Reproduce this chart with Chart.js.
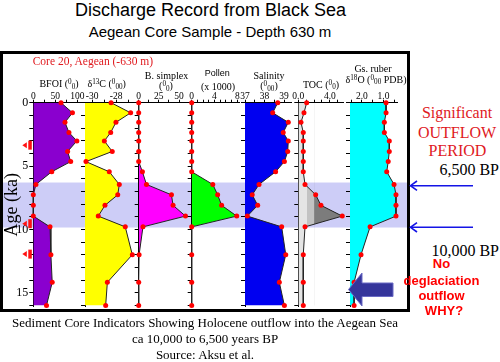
<!DOCTYPE html>
<html>
<head>
<meta charset="utf-8">
<script src="https://cdn.jsdelivr.net/npm/chart.js"></script>
<style>
  body { margin: 0; width: 500px; height: 362px; background: #fff; position: relative; overflow: hidden; }
  .t { position: absolute; white-space: nowrap; line-height: 1; }
  .h { transform: translateX(-50%); }
  .c { transform: translate(-50%, -50%); }
  .serif { font-family: 'Liberation Serif', 'Times New Roman', serif; }
  .sans { font-family: 'Liberation Sans', Arial, sans-serif; }
  .up { font-size: 0.72em; position: relative; top: -0.38em; }
  .dn { font-size: 0.72em; position: relative; top: 0.22em; }
  #box { position: absolute; left: 0; top: 51px; width: 404px; height: 255px; border: 3px solid #000; }
  #box canvas { position: absolute; left: 0; top: 0; }
  svg { position: absolute; left: 0; top: 0; }
</style>
</head>
<body>

<div class="t sans h" style="left:210.5px; top:0.5px; font-size:18px;">Discharge Record from Black Sea</div>
<div class="t sans h" style="left:210px; top:23.5px; font-size:15px;">Aegean Core Sample - Depth 630 m</div>

<div id="box"></div>

<div class="t serif" style="left:32.7px; top:56.4px; font-size:11.5px; color:#e0191e;">Core 20, Aegean (-630 m)</div>

<div class="t serif c" style="left:59px; top:84px; font-size:10px;">BFOI (<span class="up">0</span><span class="dn">0</span>)</div>
<div class="t serif c" style="left:106.7px; top:84px; font-size:10px;">δ<span class="up">13</span>C (<span class="up">0</span><span class="dn">00</span>)</div>
<div class="t serif c" style="left:166.5px; top:75.5px; font-size:10px;">B. simplex</div>
<div class="t serif c" style="left:166px; top:86px; font-size:10px;">(<span class="up">0</span><span class="dn">0</span>)</div>
<div class="t sans c" style="left:217.3px; top:73.3px; font-size:9px;">Pollen</div>
<div class="t serif c" style="left:218px; top:86.5px; font-size:10px;">(x 1000)</div>
<div class="t serif c" style="left:269px; top:75.5px; font-size:10px;">Salinity</div>
<div class="t serif c" style="left:269px; top:86px; font-size:10px;">(<span class="up">0</span><span class="dn">00</span>)</div>
<div class="t serif c" style="left:321px; top:84.5px; font-size:10px;">TOC (<span class="up">0</span><span class="dn">0</span>)</div>
<div class="t serif c" style="left:373px; top:68.5px; font-size:10px;">Gs. ruber</div>
<div class="t serif c" style="left:376px; top:79.5px; font-size:10px;">δ<span class="up">18</span>O (<span class="up">0</span><span class="dn">00</span> PDB)</div>

<div class="t serif h" style="left:457px; top:104.9px; font-size:16px; color:#e0191e;">Significant</div>
<div class="t serif h" style="left:457px; top:124.9px; font-size:16px; color:#e0191e;">OUTFLOW</div>
<div class="t serif h" style="left:457.5px; top:143.3px; font-size:16px; color:#e0191e;">PERIOD</div>
<div class="t serif" style="right:1px; top:161.6px; font-size:16px;">6,500 BP</div>
<div class="t serif" style="right:1px; top:243.3px; font-size:16px;">10,000 BP</div>

<div class="t sans h" style="left:441.5px; top:256.9px; font-size:13px; font-weight:bold; color:#ff0000;">No</div>
<div class="t sans h" style="left:441.5px; top:273.6px; font-size:13px; font-weight:bold; color:#ff0000;">deglaciation</div>
<div class="t sans h" style="left:441.5px; top:288.6px; font-size:13px; font-weight:bold; color:#ff0000;">outflow</div>
<div class="t sans h" style="left:444px; top:303.6px; font-size:13px; font-weight:bold; color:#ff0000;">WHY?</div>

<div class="t serif h" style="left:205px; top:316.4px; font-size:13px;">Sediment Core Indicators Showing Holocene outflow into the Aegean Sea</div>
<div class="t serif h" style="left:205px; top:332.4px; font-size:13px;">ca 10,000 to 6,500 years BP</div>
<div class="t serif h" style="left:205px; top:348.4px; font-size:13px;">Source: Aksu et al.</div>

<svg width="500" height="362">
  <g stroke="#1414e6" stroke-width="1.6" fill="none">
    <line x1="473" y1="185.7" x2="410.5" y2="185.7"/>
    <polyline points="417,181 410.5,185.7 417,190.4"/>
    <line x1="473" y1="227.3" x2="410.5" y2="227.3"/>
    <polyline points="417,222.6 410.5,227.3 417,232"/>
  </g>
  <polygon points="348.5,289.5 362,273 362,283 393,283 393,296.5 362,296.5 362,306" fill="#35359b" stroke="#6a6ac4" stroke-width="1"/>
</svg>

<script>
// sample ages (ka) shared by all down-core records
const AGES = [0, 0.8, 1.55, 2.35, 3.02, 3.85, 4.65, 5.45, 6.45, 7.27, 8.1, 8.95, 9.8, 12.0, 14.18, 16.0];

const BFOI = [63, 89, 72, 81, 99, 78, 85, 42, 6, 0, 0, 0, 38, 40, 43, 30];
const D13C = [-28.42, -26.78, -28.01, -28.45, -28.98, -28.32, -30.52, -28.57, -27.73, -27.86, -28.93, -29.49, -27.23, -26.64, -28.73, -28.87];
const BSIMPLEX = [0, 0, 0, 0, 0, 0, 0, 4.6, 9.6, 40.6, 42.6, 58, 5.3, 0.5, 0, 0];
const POLLEN = [0, 0, 0, 0, 0, 0, 0, 0, 3.7, 4.55, 5.25, 7.9, 0, 0, 0, 0];
const SALINITY = [38.68, 38.42, 39.22, 38.96, 39.22, 39.19, 39.02, 38.57, 37.72, 37.37, 37.65, 37.12, 38.88, 39.09, 38.76, 39.02];
const TOC = [1.06, 0.72, 0.34, 0.63, 0.63, 0.63, 0.63, 0.63, 0.85, 2.2, 2.87, 5.57, 0.85, 0.63, 0.63, 0.63];
const D18O = [0.88, 0.88, 0.96, 0.96, 0.73, 0.73, 0.78, 0.85, 0.51, 0.42, 0.42, 0.42, 1.62, 2.04, 2.36, 2.36];

// tick positions and labels
const AGE_TICKS = [0, 1, 2, 3, 4, 5, 6, 7, 8, 9, 10, 11, 12, 13, 14, 15, 16];
const AGE_LABELS = [0, 5, 10, 15];
const BFOI_TICKS = [0, 25, 50, 75, 100];
const BFOI_LABELS = ['0', '', '50', '', '100'];
const D13C_TICKS = [-30, -29, -28, -27];
const D13C_LABELS = ['-30', '', '-28', ''];
const BSIMPLEX_TICKS = [0, 12.5, 25, 37.5, 50];
const BSIMPLEX_LABELS = ['0', '', '25', '', '50'];
const POLLEN_TICKS = [0, 1, 2, 3, 4, 5, 6, 7, 8];
const POLLEN_LABELS = ['0', '', '', '', '4', '', '', '', '8'];
const SALINITY_TICKS = [37, 37.5, 38, 38.5, 39];
const SALINITY_LABELS = ['37', '', '38', '', '39'];
const TOC_TICKS = [0, 1, 2, 3, 4, 5];
const TOC_LABELS = ['0.0', '', '', '', '4.0', ''];
const D18O_TICKS = [0.5, 1.0, 1.5, 2.0, 2.5];
const D18O_LABELS = ['', '1.0', '', '2.0', ''];

// outflow period band (ka) and dated levels
const BAND = [6.3, 9.85];
const DATE_MARKERS = [3.35, 9.55, 11.95];
const TOC_SHADES = [1.1, 2.0];

const SERIF = "'Liberation Serif', 'Times New Roman', serif";
const CANVAS_W = 404, CANVAS_H = 255;
const X_AXIS_H = 48.7;
const AREA_BOTTOM = 252.7;
const Y_MAX = 16.1;

const panels = [
  { values: BFOI, min: 0, max: 110, left: 30.3, right: 78.7, ticks: BFOI_TICKS, labels: BFOI_LABELS, color: '#8a00cf' },
  { values: D13C, min: -30.6, max: -26.5, left: 82, right: 131, ticks: D13C_TICKS, labels: D13C_LABELS, color: '#ffff00' },
  { values: BSIMPLEX, min: 0, max: 60, left: 135.7, right: 184.1, ticks: BSIMPLEX_TICKS, labels: BSIMPLEX_LABELS, color: '#ff00ff' },
  { values: POLLEN, min: 0, max: 8.3, left: 188.7, right: 236, ticks: POLLEN_TICKS, labels: POLLEN_LABELS, color: '#00ff00' },
  { values: SALINITY, min: 37, max: 39.4, left: 242, right: 288.8, ticks: SALINITY_TICKS, labels: SALINITY_LABELS, color: '#0000f0' },
  { values: TOC, min: 0, max: 5.7, left: 295.3, right: 340.3, ticks: TOC_TICKS, labels: TOC_LABELS, color: '#e4e4e4', shades: true },
  { values: D18O, min: 0.35, max: 2.55, left: 347, right: 394.5, ticks: D18O_TICKS, labels: D18O_LABELS, color: '#00ffff', reverse: true }
];

const bandPlugin = {
  id: 'band',
  beforeDraw(chart) {
    const ctx = chart.ctx, y = chart.scales.y;
    const y0 = y.getPixelForValue(BAND[0]), y1 = y.getPixelForValue(BAND[1]);
    ctx.save();
    ctx.fillStyle = '#cdcdf7';
    ctx.fillRect(0, y0, chart.width, y1 - y0);
    ctx.restore();
  }
};

const markerPlugin = {
  id: 'dates',
  afterDraw(chart) {
    const { ctx, chartArea, scales: { y } } = chart;
    const px = chartArea.left;
    ctx.save();
    ctx.fillStyle = '#ff1010';
    DATE_MARKERS.forEach(age => {
      const py = y.getPixelForValue(age);
      ctx.beginPath();
      ctx.moveTo(px - 11, py);
      ctx.lineTo(px - 6.5, py - 3);
      ctx.lineTo(px - 6.5, py + 3);
      ctx.closePath();
      ctx.fill();
      ctx.fillRect(px - 5, py - 4.5, 3.5, 9);
    });
    ctx.restore();
  }
};

// darker greys for the higher TOC values
const shadePlugin = {
  id: 'tocShades',
  beforeDatasetDraw(chart, args) {
    const { ctx, chartArea: a, scales: { x } } = chart;
    const pts = args.meta.data;
    const colors = ['#c2c2c2', '#7c7c7c'];
    TOC_SHADES.forEach((v, i) => {
      const x0 = x.getPixelForValue(v);
      ctx.save();
      ctx.beginPath();
      ctx.rect(x0, a.top, a.right - x0 + 10, a.bottom - a.top);
      ctx.clip();
      ctx.beginPath();
      ctx.moveTo(x0, pts[0].y);
      pts.forEach(p => ctx.lineTo(p.x, p.y));
      ctx.lineTo(x0, pts[pts.length - 1].y);
      ctx.closePath();
      ctx.fillStyle = colors[i];
      ctx.fill();
      ctx.restore();
    });
  }
};

const box = document.getElementById('box');

panels.forEach((p, index) => {
  const first = index === 0;
  const yW = first ? 30 : 6;
  const canvas = document.createElement('canvas');
  canvas.width = CANVAS_W;
  canvas.height = CANVAS_H;
  canvas.style.width = CANVAS_W + 'px';
  canvas.style.height = CANVAS_H + 'px';
  box.appendChild(canvas);

  const plugins = [];
  if (first) plugins.push(bandPlugin, markerPlugin);
  if (p.shades) plugins.push(shadePlugin);

  new Chart(canvas, {
    type: 'line',
    data: {
      datasets: [{
        data: AGES.map((a, i) => ({ x: p.values[i], y: a })),
        borderColor: '#222',
        borderWidth: 1,
        tension: 0,
        backgroundColor: p.color,
        fill: { value: p.reverse ? p.max : p.min },
        pointRadius: 2.5,
        pointBackgroundColor: '#ff0000',
        pointBorderWidth: 0,
        clip: false
      }]
    },
    options: {
      indexAxis: 'y',
      responsive: false,
      animation: false,
      devicePixelRatio: 1,
      layout: {
        autoPadding: false,
        padding: { left: p.left - yW, right: CANVAS_W - p.right, top: 0, bottom: CANVAS_H - AREA_BOTTOM }
      },
      plugins: { legend: { display: false }, tooltip: { enabled: false } },
      scales: {
        x: {
          type: 'linear',
          position: 'top',
          min: p.min,
          max: p.max,
          reverse: !!p.reverse,
          afterBuildTicks: s => { s.ticks = p.ticks.map(v => ({ value: v })); },
          afterFit: s => { s.height = X_AXIS_H; s.paddingLeft = 0; s.paddingRight = 0; s.paddingTop = 0; s.paddingBottom = 0; },
          border: { display: true, color: '#000', width: 1 },
          grid: { drawOnChartArea: false, drawTicks: true, tickLength: 3, color: '#000' },
          ticks: {
            autoSkip: false, maxRotation: 0, padding: -2.2, color: '#000',
            font: { family: SERIF, size: 9.5 },
            callback: (v, i) => p.labels[i]
          }
        },
        y: {
          type: 'linear',
          reverse: true,
          min: 0,
          max: Y_MAX,
          afterBuildTicks: s => { s.ticks = AGE_TICKS.map(v => ({ value: v })); },
          afterFit: s => { s.width = yW; s.paddingLeft = 0; s.paddingRight = 0; s.paddingTop = 0; s.paddingBottom = 0; },
          border: { display: true, color: '#000', width: 1 },
          grid: { drawOnChartArea: false, drawTicks: true, tickLength: 4, color: '#000' },
          ticks: {
            display: first, autoSkip: false, padding: 1, color: '#000',
            font: { family: SERIF, size: 12 },
            callback: v => AGE_LABELS.includes(v) ? String(v) : ''
          },
          title: {
            display: first, text: 'Age (ka)', color: '#000', padding: 0,
            font: { family: SERIF, size: 18, lineHeight: 1 }
          }
        }
      }
    },
    plugins
  });
});
</script>
</body>
</html>
